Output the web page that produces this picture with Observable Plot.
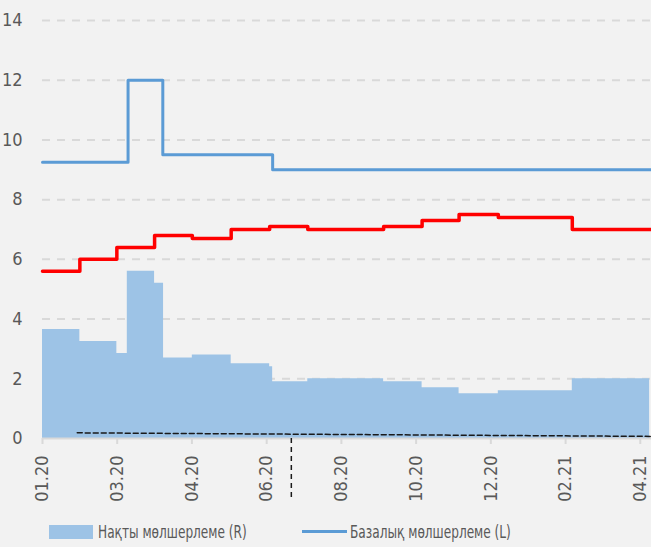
<!DOCTYPE html>
<html>
<head>
<meta charset="utf-8">
<script src="https://cdn.jsdelivr.net/npm/d3@7"></script>
<script src="https://cdn.jsdelivr.net/npm/@observablehq/plot@0.6"></script>
<style>
  html, body { margin: 0; padding: 0; background: #f2f2f2; }
  body { width: 651px; height: 547px; overflow: hidden; font-family: "Liberation Sans Narrow", "DejaVu Sans Condensed", "Roboto", sans-serif; }
  #legend { position: relative; width: 651px; height: 42px; color: #595959; font-size: 18px; }
  #legend .sw { position: absolute; }
  #legend .lb { position: absolute; line-height: 18px; white-space: nowrap; transform: scaleX(0.75); transform-origin: left center; }
</style>
</head>
<body>
<div id="chart"></div>
<div id="legend"></div>
<script>
// x positions are in "months since 01.20" along the category axis
const tickPos = [0, 2, 4, 6, 8, 10, 12, 14, 16];
const tickLabels = ["01.20", "03.20", "04.20", "06.20", "08.20", "10.20", "12.20", "02.21", "04.21"];
const yTicks = [0, 2, 4, 6, 8, 10, 12, 14];
const xEnd = 16.3;

// Base rate (L), step changes
const baseX = [0, 2.29, 3.22, 6.16];
const baseVal = [9.25, 12, 9.5, 9.0];

// Red line (inflation), step changes
const redX = [0, 1.0, 1.99, 3.0, 4.01, 5.05, 6.08, 7.1, 9.13, 10.16, 11.15, 12.2, 14.18];
const redVal = [5.6, 6.0, 6.4, 6.8, 6.7, 7.0, 7.1, 7.0, 7.1, 7.3, 7.5, 7.4, 7.0];

// Real rate (R), step changes
const realX = [0, 1.0, 1.99, 2.27, 3.0, 3.24, 4.01, 5.05, 6.08, 6.16, 7.1, 9.13, 10.16, 11.15, 12.2, 14.18];
const realVal = [3.65, 3.25, 2.85, 5.6, 5.2, 2.7, 2.8, 2.5, 2.4, 1.9, 2.0, 1.9, 1.7, 1.5, 1.6, 2.0];
const realEnd = 16.25;

// dashed trend near zero
const trendX = [0.93, 16.3];
const trendVal = [0.19, 0.07];

// vertical dashed marker
const markerX = [6.66];

function steps(xs, vs, end) {
  const d = xs.map((x, i) => ({x, v: vs[i]}));
  d.push({x: end, v: vs[vs.length - 1]});
  return d;
}
const baseData = steps(baseX, baseVal, xEnd);
const redData = steps(redX, redVal, xEnd);
const realData = steps(realX, realVal, realEnd);
const trendData = trendX.map((x, i) => ({x, v: trendVal[i]}));

const font = '"Liberation Sans Narrow", "DejaVu Sans Condensed", "Roboto", sans-serif';

const chart = Plot.plot({
  width: 651,
  height: 505,
  marginLeft: 42,
  marginRight: 0,
  marginTop: 20,
  marginBottom: 67,
  style: { background: "#f2f2f2", fontFamily: font, fontSize: "18px", color: "#595959", overflow: "visible" },
  x: { domain: [0, xEnd], type: "linear" },
  y: { domain: [0, 14] },
  marks: [
    Plot.ruleY(yTicks.filter(d => d > 0), { stroke: "#d9d9d9", strokeWidth: 2, strokeDasharray: "8,7" }),
    Plot.areaY(realData, { x: "x", y: "v", curve: "step-after", fill: "#9dc3e6" }),
    Plot.ruleY([0], { stroke: "#d9d9d9", strokeWidth: 2 }),
    Plot.lineY(trendData, { x: "x", y: "v", stroke: "#1a1a1a", strokeWidth: 1.5, strokeDasharray: "5,3" }),
    Plot.ruleX(markerX, { y1: 0, y2: -1.98, stroke: "#1a1a1a", strokeWidth: 1.5, strokeDasharray: "5,4", clip: false }),
    Plot.lineY(baseData, { x: "x", y: "v", curve: "step-after", stroke: "#5b9bd5", strokeWidth: 3 }),
    Plot.lineY(redData, { x: "x", y: "v", curve: "step-after", stroke: "#ff0000", strokeWidth: 3.5 }),
    Plot.axisX({ ticks: tickPos, tickFormat: (d) => tickLabels[tickPos.indexOf(d)], tickRotate: -90, tickSize: 6, tickPadding: 11, stroke: "#d9d9d9", strokeWidth: 2, fill: "#595959", fontSize: 18, label: null }),
    Plot.axisY({ ticks: yTicks, tickSize: 0, tickPadding: 20, fill: "#595959", fontSize: 18, label: null })
  ]
});
document.getElementById("chart").appendChild(chart);

const legendItems = [
  { label: "Нақты мөлшерлеме (R)", kind: "area", color: "#9dc3e6" },
  { label: "Базалық мөлшерлеме (L)", kind: "line", color: "#5b9bd5" }
];
const leg = document.getElementById("legend");
const swLeft = [49, 302];
const lbLeft = [98, 350];
legendItems.forEach((it, i) => {
  const sw = document.createElement("div");
  sw.className = "sw";
  sw.style.left = swLeft[i] + "px";
  sw.style.background = it.color;
  if (it.kind === "area") { sw.style.top = "20px"; sw.style.width = "44px"; sw.style.height = "14px"; }
  else { sw.style.top = "25px"; sw.style.width = "45px"; sw.style.height = "3px"; }
  leg.appendChild(sw);
  const lb = document.createElement("div");
  lb.className = "lb";
  lb.style.left = lbLeft[i] + "px";
  lb.style.top = "18px";
  lb.textContent = it.label;
  leg.appendChild(lb);
});
</script>
</body>
</html>
